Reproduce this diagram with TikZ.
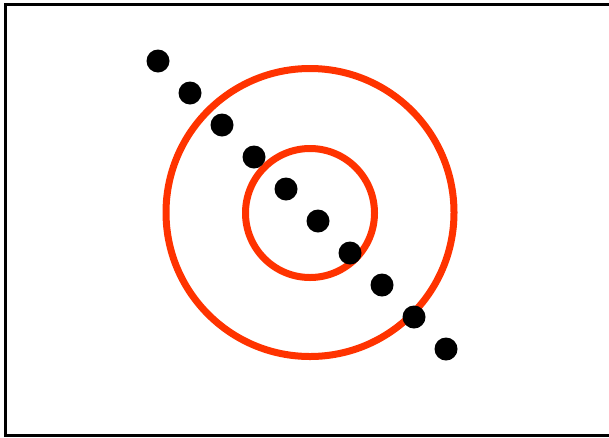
\documentclass[tikz,border=0pt]{standalone}
\definecolor{ringred}{HTML}{FF3300}
\begin{document}
\begin{tikzpicture}[x=1pt,y=-1pt,
  dot/.style={circle,fill=black,inner sep=0pt,minimum size=23pt},
  ring/.style={circle,draw=ringred,line width=7pt,inner sep=0pt}]
\useasboundingbox (0,0) rectangle (609,437);
\draw[line width=2.5pt] (5.5,4.5) rectangle (615,435.5);
\node[ring,minimum size=288pt] (big) at (310,212.5) {};
\node[ring,minimum size=129pt] (small) at (310,213) {};
\foreach \i in {0,...,9}{
  \node[dot] (d\i) at ({158+32*\i},{61+32*\i}) {};
}
\end{tikzpicture}
\end{document}
